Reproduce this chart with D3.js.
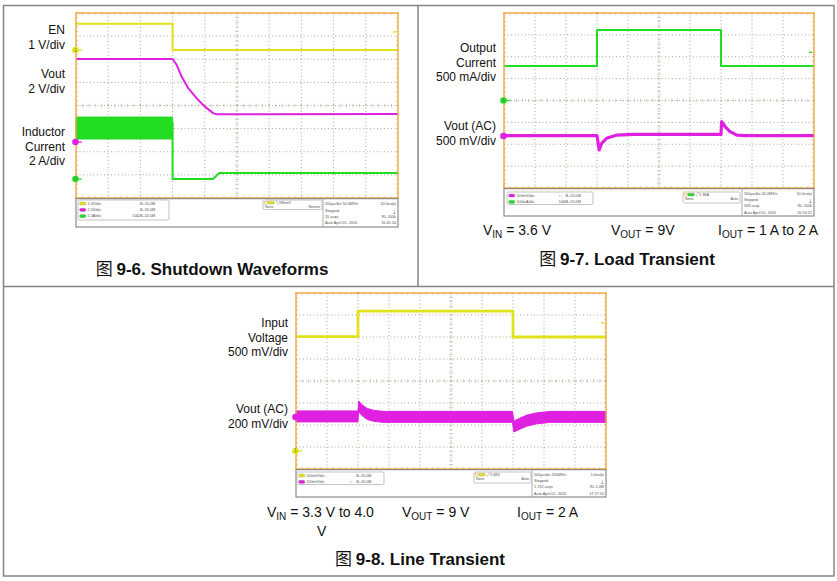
<!DOCTYPE html>
<html><head><meta charset="utf-8">
<script src="https://cdn.jsdelivr.net/npm/d3@7"></script>
<style>
body{margin:0;background:#fff}
svg{display:block}
text{font-family:"Liberation Sans",Arial,sans-serif}
</style>
</head><body>
<svg id="c" width="837" height="581"></svg>
<script>
// all trace values are in scope divisions: time 0..10 div, level -4..4 div (0 = centre graticule line)

// 9-6 shutdown
const shutdownEN = [[0,3.53],[3.0,3.53],[3.0,2.4],[10,2.4]];
const shutdownVout = [[0,2.01],[3.0,2.01],[3.13,1.75],[3.28,1.25],[3.49,0.74],[3.75,0.31],[4.0,-0.05],[4.27,-0.34],[4.37,-0.38],[10,-0.37]];
const shutdownILripple = [[0,-0.5,-1.45],[3.0,-0.5,-1.45]]; // [t, top, bottom] of switching ripple
const shutdownIL = [[3.0,-0.7],[3.0,-3.18],[4.25,-3.18],[4.45,-2.92],[10,-2.92]];
const shutdownGround = [2.4,-1.58,-3.18]; // ch1, ch2, ch4 reference markers
const shutdownTrigLevel = 3.18;
const shutdownTrigTime = 3.0;

// 9-7 load transient
const loadIout = [[0,1.58],[3.0,1.58],[3.0,3.22],[7.0,3.22],[7.0,1.58],[10,1.58]];
const loadVout = [[0,-1.61],[3.0,-1.61],[3.07,-2.26],[3.15,-1.96],[3.31,-1.73],[3.64,-1.58],[4.16,-1.55],[7.0,-1.55],[7.02,-0.97],[7.13,-1.19],[7.29,-1.42],[7.51,-1.58],[7.77,-1.61],[10,-1.61]];
const loadGround = [0.0,-1.62]; // ch4, ch2
const loadTrigLevel = 2.2;
const loadTrigTime = 3.0;

// 9-8 line transient
const lineVin = [[0,2.02],[2.0,2.02],[2.0,3.18],[7.0,3.18],[7.0,2.0],[10,2.0]];
const lineVout = [ // [t, bottom, top] of the rippled output band
  [0,-1.86,-1.36],[2.0,-1.86,-1.36],[2.02,-1.41,-0.91],[2.15,-1.6,-1.1],[2.3,-1.75,-1.25],
  [2.5,-1.83,-1.33],[2.8,-1.88,-1.38],[6.98,-1.88,-1.38],[7.03,-2.32,-1.82],[7.2,-2.2,-1.7],
  [7.45,-2.05,-1.55],[7.75,-1.95,-1.45],[8.2,-1.88,-1.38],[10,-1.88,-1.38]];
const lineGround = [-3.18,-1.64]; // ch1, ch2
const lineTrigLevel = 2.64;
const lineTrigTime = 2.0;

// labels
const shutdownLabels = [["EN","1 V/div"],["Vout","2 V/div"],["Inductor","Current","2 A/div"]];
const loadLabels = [["Output","Current","500 mA/div"],["Vout (AC)","500 mV/div"]];
const lineLabels = [["Input","Voltage","500 mV/div"],["Vout (AC)","200 mV/div"]];

// status bar text
const shutdownChannels = [["1.0V/div","","B\u1d65:20.0M"],["2.0V/div","","B\u1d65:20.0M"],["2.0A/div","50\u03a9","B\u1d65:20.0M"]];
const shutdownInfo = [["200\u00b5s/div  50.0MS/s","20.0ns/pt"],["Stopped","\u2193"],["20 acqs","RL:100k"],["Auto   April 01, 2016","16:45:34"]];
const loadChannels = [["500mV/div","\u2191\u2193","B\u1d65:20.0M"],["500mA/div","50\u03a9","B\u1d65:20.0M"]];
const loadInfo = [["500\u00b5s/div  20.0MS/s","50.0ns/pt"],["Stopped","\u2193"],["358 acqs","RL:100k"],["Auto   April 01, 2016","16:54:52"]];
const lineChannels = [["500mV/div","","B\u1d65:20.0M"],["200mV/div","\u2191\u2193","B\u1d65:20.0M"]];
const lineInfo = [["500\u00b5s/div  200MS/s","5.0ns/pt"],["Stopped","\u2193"],["1 292 acqs","RL:1.0M"],["Auto   April 01, 2016","17:17:10"]];

const YEL = "#e2e21a", MAG = "#e020e0", GRN = "#22dd22", ORG = "#f2a53a";

const svg = d3.select("#c");
svg.append("rect").attr("width", 837).attr("height", 581).attr("fill", "#fff");

// outer frame
const frame = svg.append("g").attr("stroke", "#858585").attr("stroke-width", 1.5).attr("fill", "none");
frame.append("rect").attr("x", 3.5).attr("y", 5.5).attr("width", 830.5).attr("height", 570.5);
frame.append("line").attr("x1", 3.5).attr("x2", 834).attr("y1", 286.5).attr("y2", 286.5);
frame.append("line").attr("x1", 418).attr("x2", 418).attr("y1", 5.5).attr("y2", 286.5);

function drawScope(o) {
  const g = svg.append("g");
  const x = d3.scaleLinear().domain([0, 10]).range([o.x0, o.x1]);
  const y = d3.scaleLinear().domain([-4, 4]).range([o.y1, o.y0]);

  // graticule
  const grid = g.append("g").attr("stroke", "#a39c84").attr("stroke-width", 0.9).attr("stroke-dasharray", "1,2.5");
  grid.selectAll(".gv").data(d3.range(1, 10)).join("line").attr("class", "gv")
    .attr("x1", d => x(d)).attr("x2", d => x(d)).attr("y1", o.y0).attr("y2", o.y1);
  grid.selectAll(".gh").data(d3.range(-3, 4)).join("line").attr("class", "gh")
    .attr("y1", d => y(d)).attr("y2", d => y(d)).attr("x1", o.x0).attr("x2", o.x1);

  const tk = g.append("g").attr("stroke", "#b3ad98").attr("stroke-width", 0.6);
  const mt = d3.range(0, 10.001, 0.2), ml = d3.range(-4, 4.001, 0.2);
  const ticks = (cls, data, f) => tk.selectAll("." + cls).data(data).join("line").attr("class", cls).each(f);
  ticks("tc", mt, function(d) { d3.select(this).attr("x1", x(d)).attr("x2", x(d)).attr("y1", y(0) - 1.8).attr("y2", y(0) + 1.8); });
  ticks("lc", ml, function(d) { d3.select(this).attr("y1", y(d)).attr("y2", y(d)).attr("x1", x(5) - 1.8).attr("x2", x(5) + 1.8); });
  ticks("tt", mt, function(d) { d3.select(this).attr("x1", x(d)).attr("x2", x(d)).attr("y1", o.y0).attr("y2", o.y0 + 2); });
  ticks("tb", mt, function(d) { d3.select(this).attr("x1", x(d)).attr("x2", x(d)).attr("y1", o.y1 - 2).attr("y2", o.y1); });
  ticks("ll", ml, function(d) { d3.select(this).attr("y1", y(d)).attr("y2", y(d)).attr("x1", o.x0).attr("x2", o.x0 + 2); });
  ticks("lr", ml, function(d) { d3.select(this).attr("y1", y(d)).attr("y2", y(d)).attr("x1", o.x1 - 2).attr("x2", o.x1); });

  // traces
  const line = d3.line().x(d => x(d[0])).y(d => y(d[1]));
  const area = d3.area().x(d => x(d[0])).y0(d => y(d[1])).y1(d => y(d[2]));
  const tr = g.append("g");
  (o.bands || []).forEach(b => tr.append("path").datum(b.data).attr("d", area)
    .attr("fill", b.color).attr("stroke", b.color).attr("stroke-width", 1));
  o.traces.forEach(t => tr.append("path").datum(t.data).attr("d", line)
    .attr("fill", "none").attr("stroke", t.color).attr("stroke-width", t.width || 2)
    .attr("stroke-linejoin", "round"));

  // border
  g.append("rect").attr("x", o.x0).attr("y", o.y0).attr("width", o.x1 - o.x0).attr("height", o.y1 - o.y0)
    .attr("fill", "none").attr("stroke", ORG).attr("stroke-width", 1.4);

  // trigger markers
  g.append("path").attr("d", `M${x(o.trigTime) - 2},${o.y0 - 1}h4l-2,3z`).attr("fill", ORG);
  g.append("line").attr("x1", o.x1 - 5).attr("x2", o.x1 - 2).attr("y1", y(o.trigLevel)).attr("y2", y(o.trigLevel))
    .attr("stroke", o.trigColor).attr("stroke-width", 1.5);

  // channel reference markers
  o.grounds.forEach(m => {
    const mg = g.append("g");
    mg.append("line").attr("x1", o.x0).attr("x2", o.x0 + 6).attr("y1", y(m.v)).attr("y2", y(m.v))
      .attr("stroke", m.color).attr("stroke-width", 1.2);
    mg.append("circle").attr("cx", o.x0 - 0.5).attr("cy", y(m.v)).attr("r", 3.3).attr("fill", m.color);
    if (m.n) mg.append("text").attr("x", o.x0 - 0.5).attr("y", y(m.v) + 1.5).attr("text-anchor", "middle")
      .attr("font-size", 4.5).attr("fill", "#775").text(m.n);
  });

  // channel labels
  o.labels.forEach((grp, k) => grp.forEach((s, j) => {
    g.append("text").attr("x", o.labelX).attr("y", o.labelY[k] + j * 14.5).attr("text-anchor", "end")
      .attr("font-size", 12).attr("fill", "#111").text(s);
  }));

  // status bar
  const sb = g.append("g");
  sb.append("rect").attr("x", o.x0).attr("y", o.y1 + 0.7).attr("width", o.x1 - o.x0).attr("height", o.sb - o.y1 - 0.7)
    .attr("fill", "#fff").attr("stroke", "#777").attr("stroke-width", 1);
  const L = o.legend;
  sb.append("rect").attr("x", L.x).attr("y", L.y).attr("width", L.w).attr("height", L.h).attr("rx", 1.5)
    .attr("fill", "#fff").attr("stroke", "#aaa").attr("stroke-width", 0.7);
  o.channels.forEach((c, k) => {
    const yy = L.y + 3.5 + k * 6.3;
    sb.append("rect").attr("x", L.x + 1.5).attr("y", yy - 1.6).attr("width", 6.5).attr("height", 3.2).attr("rx", 1.6)
      .attr("fill", o.chColors[k]).attr("stroke", "#888").attr("stroke-width", 0.3);
    const tx = (xx, s, anchor) => sb.append("text").attr("x", xx).attr("y", yy + 1.3).attr("font-size", 3.8)
      .attr("fill", "#555").attr("text-anchor", anchor || "start").text(s);
    tx(L.x + 9.5, c[0]);
    tx(L.x + L.w * 0.6, c[1]);
    tx(L.x + L.w * 0.68, c[2]);
  });
  const T = o.trig;
  sb.append("rect").attr("x", T.x).attr("y", T.y).attr("width", T.w).attr("height", T.h).attr("rx", 1.5)
    .attr("fill", "#fff").attr("stroke", "#aaa").attr("stroke-width", 0.7);
  sb.append("rect").attr("x", T.x + 1.5).attr("y", T.y + 1.3).attr("width", 2.5).attr("height", 2.8)
    .attr("fill", "#fff").attr("stroke", ORG).attr("stroke-width", 0.5);
  sb.append("rect").attr("x", T.x + 4.5).attr("y", T.y + 1.3).attr("width", 7).attr("height", 2.8).attr("rx", 1.4)
    .attr("fill", o.trigColor).attr("stroke", "#888").attr("stroke-width", 0.3);
  sb.append("text").attr("x", T.x + 13).attr("y", T.y + 4).attr("font-size", 3.8).attr("fill", "#555").text(o.trigText);
  sb.append("text").attr("x", T.x + 2).attr("y", T.y + 8.3).attr("font-size", 3.6).attr("fill", "#555").text("None");
  sb.append("text").attr("x", T.x + T.w - 2).attr("y", T.y + 8.3).attr("font-size", 3.6).attr("fill", "#555")
    .attr("text-anchor", "end").text(o.trigMode);
  sb.append("line").attr("x1", o.infoX).attr("x2", o.infoX).attr("y1", o.y1 + 0.7).attr("y2", o.sb)
    .attr("stroke", "#999").attr("stroke-width", 0.8);
  const h = o.sb - o.y1;
  o.info.forEach((r, k) => {
    const yy = o.y1 + h * (0.2 + k * 0.22) + 1.5;
    sb.append("text").attr("x", o.infoX + 2).attr("y", yy).attr("font-size", 3.8).attr("fill", "#555").text(r[0]);
    sb.append("text").attr("x", o.x1 - 2).attr("y", yy + (r[1] === "\u2193" ? 2 : 0)).attr("text-anchor", "end")
      .attr("font-size", r[1] === "\u2193" ? 7 : 3.8).attr("fill", r[1] === "\u2193" ? "#222" : "#555").text(r[1]);
  });
}

drawScope({
  x0: 76, x1: 398, y0: 13, y1: 198, sb: 227,
  bands: [{data: shutdownILripple, color: GRN}],
  traces: [
    {data: shutdownEN, color: YEL},
    {data: shutdownVout, color: MAG},
    {data: shutdownIL, color: GRN}
  ],
  trigTime: shutdownTrigTime, trigLevel: shutdownTrigLevel, trigColor: YEL,
  grounds: [{v: shutdownGround[0], color: YEL, n: "1"}, {v: shutdownGround[1], color: MAG}, {v: shutdownGround[2], color: GRN, n: "4"}],
  labels: shutdownLabels, labelX: 65, labelY: [34, 78, 136],
  legend: {x: 78, y: 200, w: 91, h: 20}, chColors: [YEL, MAG, GRN], channels: shutdownChannels,
  trig: {x: 263, y: 200, w: 59, h: 9.5}, trigText: "\u2572 980mV", trigMode: "Normal",
  infoX: 323, info: shutdownInfo
});

drawScope({
  x0: 504, x1: 814, y0: 13, y1: 188, sb: 216,
  traces: [
    {data: loadIout, color: GRN},
    {data: loadVout, color: MAG, width: 3.2}
  ],
  trigTime: loadTrigTime, trigLevel: loadTrigLevel, trigColor: GRN,
  grounds: [{v: loadGround[0], color: GRN, n: "4"}, {v: loadGround[1], color: MAG}],
  labels: loadLabels, labelX: 496, labelY: [52, 130],
  legend: {x: 507, y: 192, w: 86, h: 12.5}, chColors: [MAG, GRN], channels: loadChannels,
  trig: {x: 683, y: 192, w: 57, h: 11}, trigText: "\u2571 1.38A", trigMode: "Auto",
  infoX: 742, info: loadInfo
});

drawScope({
  x0: 296, x1: 606, y0: 293, y1: 469, sb: 497,
  bands: [{data: lineVout, color: MAG}],
  traces: [
    {data: lineVin, color: YEL, width: 2.8}
  ],
  trigTime: lineTrigTime, trigLevel: lineTrigLevel, trigColor: YEL,
  grounds: [{v: lineGround[0], color: YEL, n: "1"}, {v: lineGround[1], color: MAG}],
  labels: lineLabels, labelX: 288, labelY: [327, 413],
  legend: {x: 297, y: 472, w: 87, h: 12.5}, chColors: [YEL, MAG], channels: lineChannels,
  trig: {x: 474, y: 472, w: 57, h: 11}, trigText: "\u2571 3.68V", trigMode: "Auto",
  infoX: 532, info: lineInfo
});

// captions with subscripts
function caption(xx, yy, v, sub, rest) {
  const t = svg.append("text").attr("x", xx).attr("y", yy).attr("font-size", 14).attr("fill", "#111");
  t.append("tspan").text(v);
  t.append("tspan").attr("font-size", 10).attr("dy", 3).text(sub);
  t.append("tspan").attr("dy", -3).text(rest);
}
caption(483, 235, "V", "IN", " = 3.6 V");
caption(611, 235, "V", "OUT", " = 9V");
caption(718, 235, "I", "OUT", " = 1 A to 2 A");
caption(267, 517, "V", "IN", " = 3.3 V to 4.0");
svg.append("text").attr("x", 317).attr("y", 536).attr("font-size", 14).attr("fill", "#111").text("V");
caption(402, 517, "V", "OUT", " = 9 V");
caption(517, 517, "I", "OUT", " = 2 A");

function title(cx, yy, s) {
  const t = svg.append("text").attr("x", cx).attr("y", yy).attr("text-anchor", "middle")
    .attr("font-size", 17).attr("fill", "#111");
  t.append("tspan").attr("font-family", "'Noto Sans CJK SC'").attr("font-weight", 400).text("\u56fe ");
  t.append("tspan").attr("font-weight", 700).text(s);
}
title(212, 275, "9-6. Shutdown Waveforms");
title(627, 265, "9-7. Load Transient");
title(420, 565, "9-8. Line Transient");
</script>
</body></html>
